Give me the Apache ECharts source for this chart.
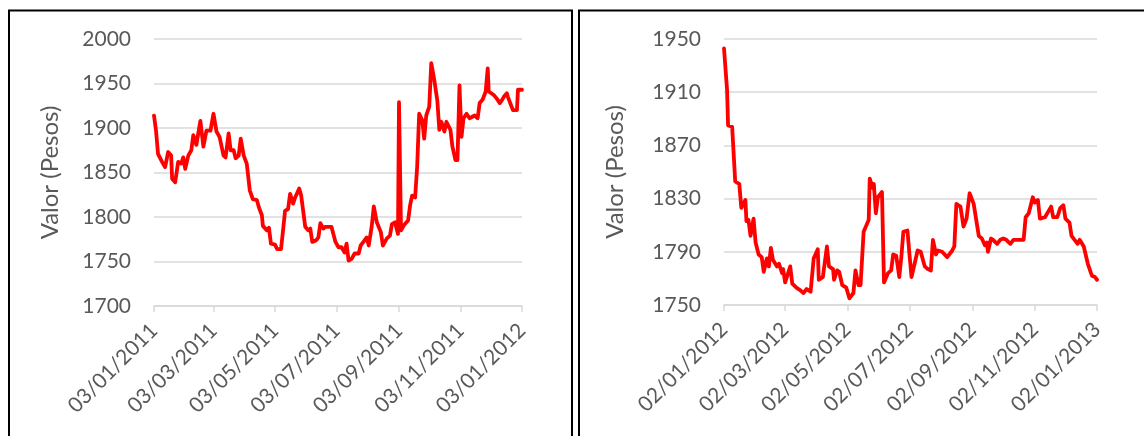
<!DOCTYPE html>
<html>
<head>
<meta charset="utf-8">
<script src="https://cdn.jsdelivr.net/npm/echarts@6/dist/echarts.min.js"></script>
<style>
html,body{margin:0;padding:0;background:#fff;}
#c{width:1144px;height:436px;}
</style>
</head>
<body>
<div id="c"></div>
<script>
// ---- Data: left chart (2011), x = days since 03/01/2011 ----
const ticksA = ['03/01/2011','03/03/2011','03/05/2011','03/07/2011','03/09/2011','03/11/2011','03/01/2012'];
const daysA = [0,2,4,8,11,14,17,18,21,24,27,29,31,34,37,39,42,46,49,52,56,59,62,65,69,71,74,76,79,81,84,86,89,92,95,98,102,104,107,108,112,114,116,120,122,126,128,130,133,135,138,140,144,146,150,153,155,157,161,163,165,168,170,174,176,180,183,186,189,191,193,196,199,203,205,209,211,213,216,218,221,225,227,231,234,236,239,242,243,245,248,252,254,256,259,261,263,266,268,270,273,275,278,281,283,285,288,290,294,296,299,301,303,305,307,310,313,318,321,323,326,329,331,332,337,340,343,345,347,350,351,354,356,360,361,365];
const valuesA = [1914,1897,1871,1862,1856,1873,1869,1843,1839,1862,1860,1867,1854,1869,1875,1892,1881,1908,1879,1897,1897,1916,1896,1890,1869,1867,1894,1875,1875,1866,1869,1888,1869,1860,1830,1820,1819,1811,1802,1790,1785,1788,1770,1769,1764,1764,1785,1807,1809,1826,1815,1822,1832,1824,1789,1785,1787,1772,1774,1777,1793,1787,1789,1789,1789,1772,1766,1766,1760,1770,1751,1753,1759,1759,1768,1774,1777,1768,1790,1812,1794,1783,1768,1776,1779,1792,1794,1781,1929,1785,1791,1796,1813,1824,1822,1856,1916,1909,1888,1914,1924,1973,1954,1931,1898,1907,1896,1907,1898,1879,1864,1864,1948,1890,1911,1916,1911,1914,1911,1928,1932,1941,1967,1941,1937,1933,1928,1931,1935,1939,1935,1926,1920,1920,1943,1943];
const yTicksA = [1700, 2000, 50];

// ---- Data: right chart (2012), x = days since 02/01/2012 ----
const ticksB = ['02/01/2012','02/03/2012','02/05/2012','02/07/2012','02/09/2012','02/11/2012','02/01/2013'];
const daysB = [0,3,4,8,11,15,17,21,22,24,26,29,31,34,37,39,42,44,46,48,52,54,57,58,60,65,67,71,75,78,81,85,88,92,93,97,101,103,107,108,111,113,116,120,123,127,129,132,134,137,142,143,146,147,149,151,155,157,161,164,166,169,172,174,176,180,182,184,187,190,193,197,200,203,205,208,210,214,219,224,226,228,232,235,238,241,245,246,250,253,256,258,259,262,264,268,271,274,277,281,284,289,294,296,299,303,305,308,310,315,318,321,323,327,330,333,335,339,341,344,347,349,353,357,361,364,366];
const valuesB = [1943,1912,1885,1884,1843,1841,1823,1829,1813,1814,1802,1815,1797,1788,1786,1775,1785,1779,1793,1784,1779,1781,1774,1777,1767,1779,1766,1763,1761,1759,1762,1760,1785,1792,1769,1771,1794,1779,1777,1769,1776,1775,1765,1763,1755,1759,1776,1765,1765,1805,1814,1845,1838,1841,1819,1831,1835,1767,1774,1776,1788,1787,1771,1786,1805,1806,1788,1771,1781,1791,1790,1779,1777,1776,1799,1788,1791,1790,1786,1791,1794,1826,1824,1809,1815,1834,1826,1826,1802,1800,1795,1797,1790,1800,1799,1796,1799,1800,1799,1796,1799,1799,1799,1816,1819,1831,1827,1829,1815,1816,1820,1824,1816,1816,1823,1825,1815,1812,1802,1799,1796,1799,1794,1781,1772,1771,1769];
const yTicksB = [1750, 1950, 40];

const yTitle = 'Valor (Pesos)';

function parseDMY(s){const p=s.split('/');return Date.UTC(+p[2],+p[1]-1,+p[0]);}
function tickOffsets(ticks){const t0=parseDMY(ticks[0]);return ticks.map(s=>Math.round((parseDMY(s)-t0)/86400000));}

const offA = tickOffsets(ticksA), offB = tickOffsets(ticksB);
const FONT = 'Lato, "Open Sans", sans-serif';
const GRID_COLOR = '#d9d9d9';
const TEXT_COLOR = '#595959';

function xAxis(idx, offs, ticks){
  const map = {}; offs.forEach((o,i)=>map[o]=ticks[i]);
  return {
    type:'value', gridIndex:idx, min:offs[0], max:offs[offs.length-1],
    axisLine:{show:true,lineStyle:{color:GRID_COLOR,width:1.5}},
    axisTick:{show:true,customValues:offs,length:6,lineStyle:{color:GRID_COLOR,width:1.5}},
    axisLabel:{customValues:offs,rotate:45,fontSize:21,color:TEXT_COLOR,fontFamily:FONT,margin:21,
      formatter:v=>map[Math.round(v)]||''},
    splitLine:{show:false}
  };
}
function yAxis(idx, yt, gap){
  return {
    type:'value', gridIndex:idx, min:yt[0], max:yt[1], interval:yt[2],
    name:yTitle, nameLocation:'middle', nameGap:gap, nameRotate:90,
    nameTextStyle:{fontSize:24,color:TEXT_COLOR,fontFamily:FONT},
    axisLine:{show:false}, axisTick:{show:false},
    axisLabel:{fontSize:21,color:TEXT_COLOR,fontFamily:FONT,margin:23,formatter:v=>String(v)},
    splitLine:{show:true,lineStyle:{color:GRID_COLOR,width:1.5}}
  };
}
function series(idx, days, vals){
  return {type:'line', xAxisIndex:idx, yAxisIndex:idx, data:days.map((d,i)=>[d,vals[i]]),
    showSymbol:false, symbol:'none', animation:false,
    lineStyle:{color:'#ff0000',width:3.8,join:'round',cap:'round'}};
}

const chart = echarts.init(document.getElementById('c'), null, {renderer:'canvas'});
chart.setOption({
  backgroundColor:'#ffffff',
  animation:false,
  grid:[
    {left:154, top:39, width:368, height:267},
    {left:724, top:39, width:373, height:266}
  ],
  xAxis:[xAxis(0,offA,ticksA), xAxis(1,offB,ticksB)],
  yAxis:[yAxis(0,yTicksA,92), yAxis(1,yTicksB,97)],
  series:[series(0,daysA,valuesA), series(1,daysB,valuesB)],
  graphic:[
    {type:'rect', shape:{x:9,y:10.5,width:563,height:500}, style:{fill:'none',stroke:'#000',lineWidth:2}, z:100},
    {type:'rect', shape:{x:579,y:10.5,width:700,height:500}, style:{fill:'none',stroke:'#000',lineWidth:2}, z:100}
  ]
});
</script>
</body>
</html>
